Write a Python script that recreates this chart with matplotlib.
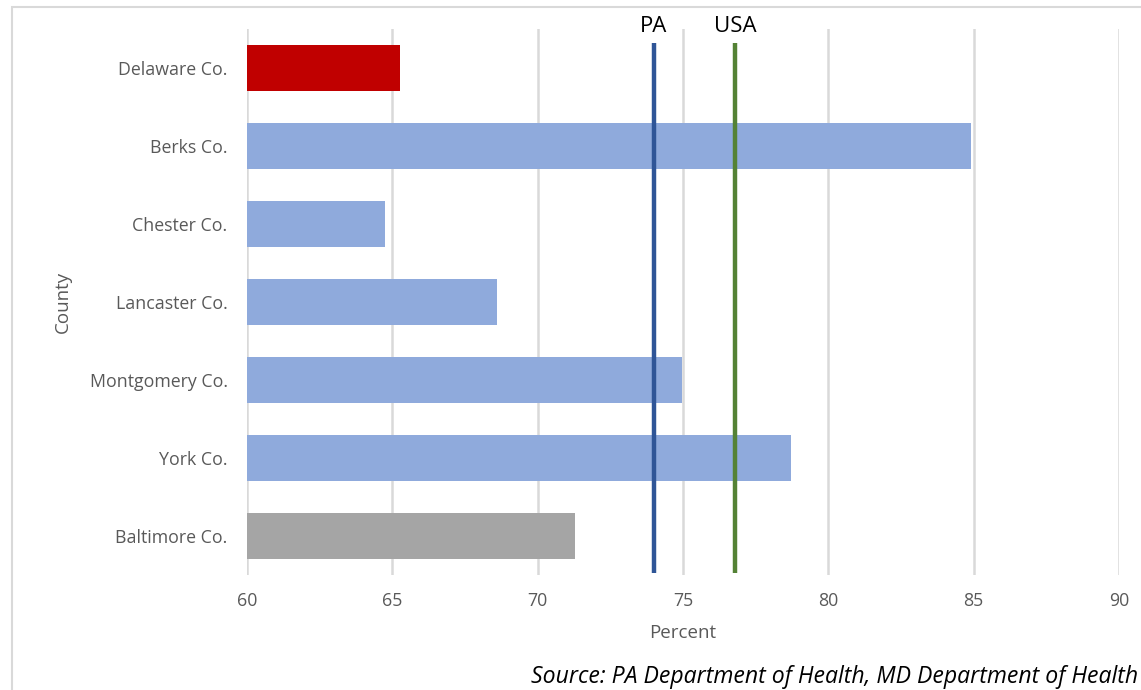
import matplotlib
matplotlib.use("Agg")
import matplotlib.pyplot as plt
from matplotlib.patches import Rectangle

counties = ["Delaware Co.", "Berks Co.", "Chester Co.", "Lancaster Co.",
            "Montgomery Co.", "York Co.", "Baltimore Co."]
values = [65.25, 84.9, 64.75, 68.6, 74.95, 78.7, 71.3]
bar_colors = ["#C00000", "#8FAADC", "#8FAADC", "#8FAADC", "#8FAADC", "#8FAADC", "#A5A5A5"]
ref_names = ["PA", "USA"]
ref_values = [74.0, 76.8]
ref_colors = ["#2F5597", "#548235"]
xticks = [60, 65, 70, 75, 80, 85, 90]

plt.rcParams['font.family'] = ['Open Sans', 'DejaVu Sans']
fig = plt.figure(figsize=(11.41, 6.9), dpi=100)
ax = fig.add_axes([247/1141, 1-575/690, (1119-247)/1141, (575-29)/690])

ypos = list(range(len(counties)))
ax.barh(ypos, [v - 60 for v in values], left=60, height=0.58, color=bar_colors, zorder=2)
ax.set_ylim(len(counties) - 0.5, -0.5)
ax.set_xlim(60, 90)
ax.set_xticks(xticks)
ax.set_yticks(ypos)
ax.set_yticklabels(counties)
ax.tick_params(axis='both', length=0, colors="#595959", labelsize=12.8)
ax.tick_params(axis='y', pad=14)
ax.tick_params(axis='x', pad=12)
ax.grid(axis='x', color="#D9D9D9", linewidth=1.8, zorder=0)
for s in ax.spines.values():
    s.set_visible(False)

for name, val, col in zip(ref_names, ref_values, ref_colors):
    ax.plot([val, val], [-0.32, len(counties) - 0.52], color=col, linewidth=3.2, zorder=3,
            solid_capstyle='butt', clip_on=False)
    ax.text(val, 0.994, name, transform=ax.get_xaxis_transform(), ha='center', va='baseline',
            fontsize=16, color="black")

ax.set_xlabel("Percent", fontsize=13.5, color="#595959", labelpad=10)
ax.set_ylabel("County", fontsize=13.5, color="#595959", labelpad=13)

fig.text(1138/1141, 1-677/690, "Source: PA Department of Health, MD Department of Health",
         ha='right', va='center', fontsize=16.6, style='italic', color="black")

fig.patches.append(Rectangle((12/1141, -0.1), 1.2, 1-7/690+0.1, transform=fig.transFigure,
                             fill=False, edgecolor="#D9D9D9", linewidth=1.5))

fig.savefig("out.png", dpi=100)
